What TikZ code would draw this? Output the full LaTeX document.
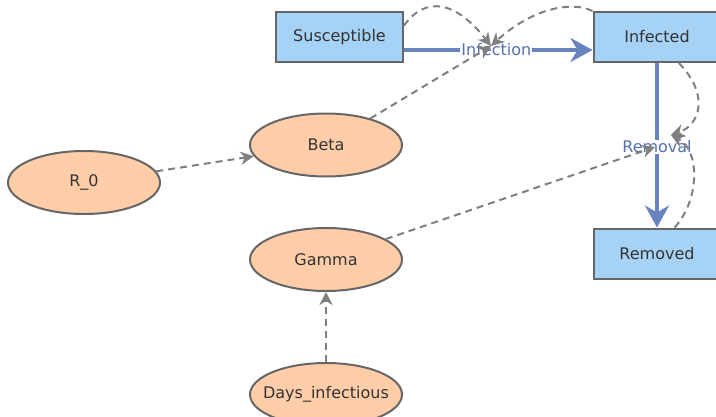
\documentclass[tikz,border=0pt]{standalone}
\usepackage{fontspec}
\setmainfont{DejaVu Sans}
\usetikzlibrary{shapes.geometric,arrows.meta}
\definecolor{stockfill}{HTML}{A6D3F5}
\definecolor{varfill}{HTML}{FFCDA8}
\definecolor{edgegray}{HTML}{666666}
\definecolor{flowblue}{HTML}{6783C0}
\definecolor{labelblue}{HTML}{5670B0}
\definecolor{linkgray}{HTML}{808080}
\definecolor{txt}{HTML}{333333}
\tikzset{
  stock/.style={rectangle, draw=edgegray, line width=2pt, fill=stockfill,
    minimum width=127pt, minimum height=50pt, inner sep=0pt, text=txt,
    font=\fontsize{16}{18}\selectfont},
  var/.style={ellipse, draw=edgegray, line width=2pt, fill=varfill,
    minimum width=152pt, minimum height=63pt, inner sep=0pt, text=txt,
    font=\fontsize{16}{18}\selectfont},
  flow/.style={draw=flowblue, line width=4pt,
    -{Stealth[length=22pt,width=24pt,inset=7pt]}},
  flowlabel/.style={fill=white, inner sep=1pt, text=labelblue,
    font=\fontsize{16}{18}\selectfont},
  link/.style={draw=linkgray, line width=2pt, dash pattern=on 7pt off 5pt,
    -{Stealth[length=13pt,width=13pt,inset=4pt]}}
}
\begin{document}
\begin{tikzpicture}[x=1pt,y=-1pt]
\useasboundingbox (0,0) rectangle (716,416);
\fill[white] (0,0) rectangle (716,416);
% stocks
\node[stock] (S) at (339.5,37) {Susceptible};
\node[stock] (I) at (657,37) {Infected};
\node[stock] (R) at (657,253.5) {Removed};
% variables
\node[var] (R0) at (84,182.5) {R\_0};
\node[var] (B) at (326,145) {Beta};
\node[var] (G) at (326,259.5) {Gamma};
\node[var, inner xsep=-16pt] (D) at (326,394.5) {Days\_infectious};
% flow midpoints
\coordinate (inf) at (491,46);
\coordinate (remA) at (671,135);
\coordinate (remB) at (655,147);
% flows
\draw[flow] ([yshift=-13pt]S.east) -- node[flowlabel, pos=0.49] {Infection} ([yshift=-13pt]I.west);
\draw[flow] (I.south) -- node[flowlabel, pos=0.51] {Removal} (R.north);
% links
\draw[link] (R0) -- (B);
\draw[link] (D) -- (G);
\draw[link] (B) -- (inf);
\draw[link] (G) -- (remB);
\draw[link] (S.10) .. controls (425,-4) and (455,0) .. (inf);
\draw[link] (I.north west) .. controls (570,0) and (530,10) .. (inf);
\draw[link] (I.-50) .. controls (710,95) and (700,125) .. (remA);
\draw[link] (R.56) .. controls (700,200) and (700,150) .. (remA);
\end{tikzpicture}
\end{document}
